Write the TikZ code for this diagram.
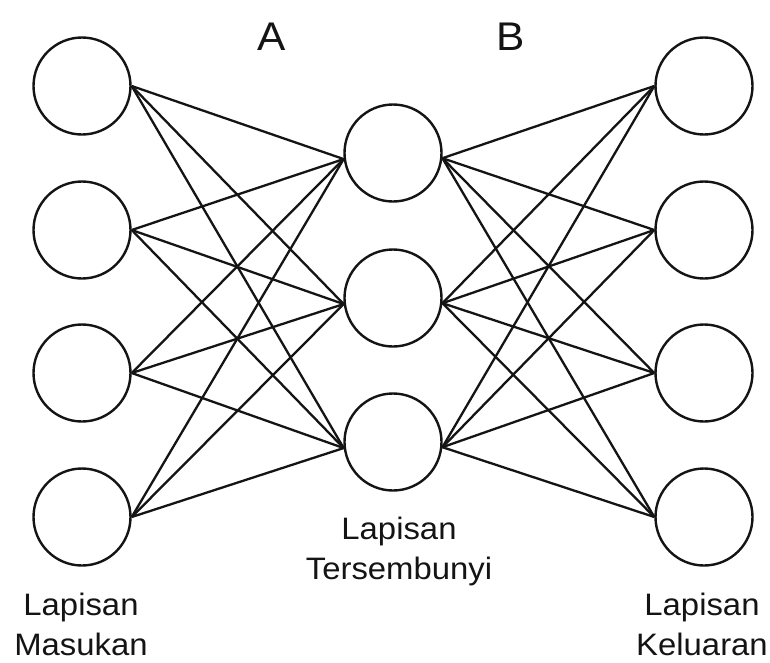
\documentclass[tikz,border=0pt]{standalone}
\usepackage{fontspec}
\setmainfont{Liberation Sans}[FakeStretch=1.06]
\begin{document}
\begin{tikzpicture}[x=1pt,y=-1pt,
  neuron/.style={circle,draw=black!92,line width=2.4pt,minimum size=97pt,inner sep=0pt},
  link/.style={draw=black!92,line width=2.3pt},
  lbl/.style={font=\fontsize{31}{40}\selectfont,align=center,anchor=north,inner sep=0pt,text=black!92},
  hdr/.style={font=\fontsize{40}{44}\selectfont,anchor=base,inner sep=0pt,text=black!92}]
\useasboundingbox (0,0) rectangle (770,662);
\fill[white] (0,0) rectangle (770,662);
% input layer
\node[neuron] (i1) at (82,86) {};
\node[neuron] (i2) at (82,230) {};
\node[neuron] (i3) at (82,373) {};
\node[neuron] (i4) at (82,517) {};
% hidden layer
\node[neuron] (h1) at (393,153) {};
\node[neuron] (h2) at (393,298) {};
\node[neuron] (h3) at (393,442) {};
% output layer
\node[neuron] (o1) at (704,86) {};
\node[neuron] (o2) at (704,230) {};
\node[neuron] (o3) at (704,373) {};
\node[neuron] (o4) at (704,517) {};
% connections
\foreach \i in {i1,i2,i3,i4}{
  \foreach \h in {h1,h2,h3}{
    \draw[link] (\i.east) -- (\h.187);
  }
}
\foreach \h in {h1,h2,h3}{
  \foreach \o in {o1,o2,o3,o4}{
    \draw[link] (\h.-6) -- (\o.west);
  }
}
% labels
\node[hdr] (la) at (272,50) {A};
\node[hdr] (lb) at (511,50) {B};
\node[lbl] (lin) at (81,593) {Lapisan\\Masukan};
\node[lbl] (lhid) at (399,517) {Lapisan\\Tersembunyi};
\node[lbl] (lout) at (702,593) {Lapisan\\Keluaran};
\end{tikzpicture}
\end{document}
